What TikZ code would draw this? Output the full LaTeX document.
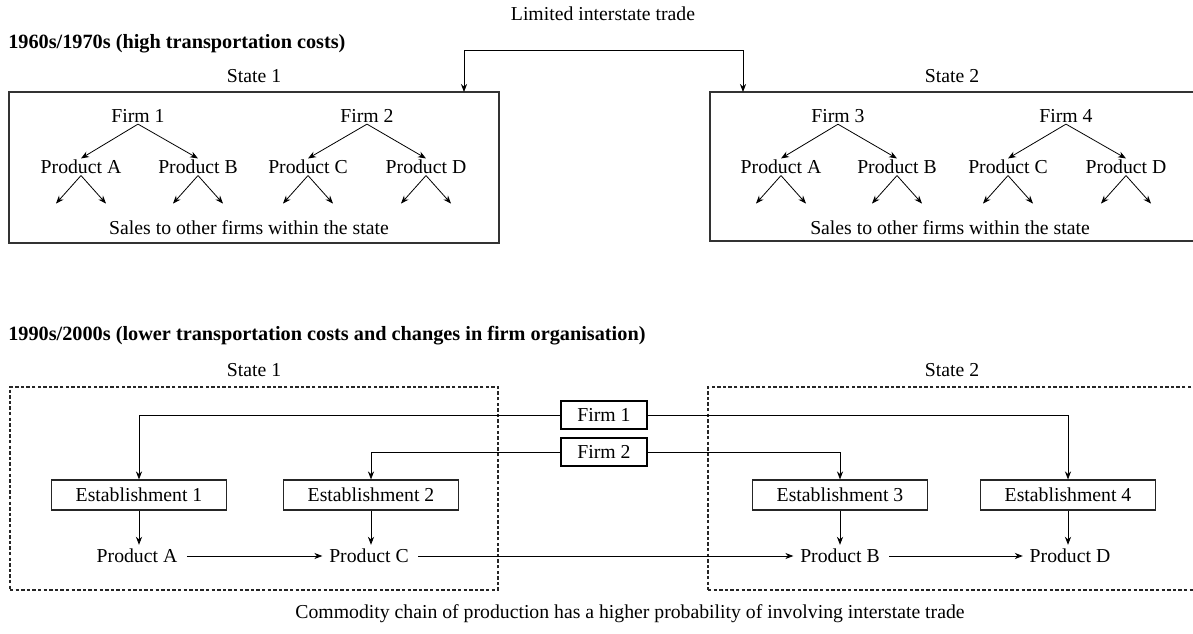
\documentclass[tikz,border=0pt]{standalone}
\usepackage{fontspec}
\setmainfont{Liberation Serif}
\usetikzlibrary{arrows.meta,fit,calc}

\tikzset{
  frame/.style={draw=black!80, line width=1.1pt, inner sep=0pt},
  dframe/.style={draw=black!85, line width=0.8pt, dash pattern=on 2.6pt off 1.6pt, inner sep=0pt},
  conn/.style={draw=black, line width=0.6pt, -{Stealth[length=6pt,width=4.6pt]}},
  firmbox/.style={draw=black, line width=1.5pt, minimum width=65pt, minimum height=21pt, inner sep=0pt},
  estbox/.style={draw=black!85, line width=0.9pt, minimum width=131pt, minimum height=22.5pt, inner sep=0pt},
  heading/.style={anchor=west, font=\fontsize{15.2}{17}\selectfont\bfseries, inner sep=0pt},
  txt/.style={font=\fontsize{14.8}{16}\selectfont, inner sep=1pt},
}

\begin{document}
\begin{tikzpicture}[x=0.75pt, y=-0.75pt]
\useasboundingbox (0,0) rectangle (1193,634);
\clip (0,0) rectangle (1193,634);
\fill[white] (0,0) rectangle (1193,634);

% ---------- upper panel: 1960s/1970s ----------
\node[txt] (lit) at (603,14) {Limited interstate trade};
\node[heading] (t1) at (8,44) {1960s/1970s (high transportation costs)};
\node[txt] (s1) at (254,76) {State 1};
\node[txt] (s2) at (952,76) {State 2};
\node[frame, fit={(9,92) (499,243)}] (b1) {};
\node[frame, fit={(710,92) (1240,241)}] (b2) {};

\coordinate (tr) at (603,50);
\coordinate (in1) at (464,92);
\coordinate (in2) at (743,92);
\draw[conn] (tr) -| (in1);
\draw[conn] (tr) -| (in2);

\foreach \f/\fx/\pa/\ax/\pb/\bx in {1/138/A/81/B/198, 2/367/C/308/D/426, 3/838/A/781/B/897, 4/1066/C/1008/D/1126} {
  \node[txt] (f\f) at (\fx,116) {Firm \f};
  \node[txt] (p\f a) at (\ax,167) {Product \pa};
  \node[txt] (p\f b) at (\bx,167) {Product \pb};
  \draw[conn] (f\f.south) -- (p\f a.north);
  \draw[conn] (f\f.south) -- (p\f b.north);
  \foreach \q in {a,b} {
    \coordinate (p\f\q l) at ($(p\f\q.south)+(-25,28)$);
    \coordinate (p\f\q r) at ($(p\f\q.south)+(25,28)$);
    \draw[conn] (p\f\q.south) -- (p\f\q l);
    \draw[conn] (p\f\q.south) -- (p\f\q r);
  }
}
\node[txt] (sl1) at (249,228) {Sales to other firms within the state};
\node[txt] (sl2) at (950,228) {Sales to other firms within the state};

% ---------- lower panel: 1990s/2000s ----------
\node[heading] (t2) at (8,336) {1990s/2000s (lower transportation costs and changes in firm organisation)};
\node[txt] (s3) at (254,370) {State 1};
\node[txt] (s4) at (952,370) {State 2};
\node[dframe, fit={(10,387) (498,590)}] (d1) {};
\node[dframe, fit={(708,387) (1240,590)}] (d2) {};

\node[firmbox, txt] (F1) at (604,415) {Firm 1};
\node[firmbox, txt] (F2) at (604,452) {Firm 2};

\node[estbox, txt] (E1) at (139,495) {Establishment 1};
\node[estbox, txt] (E2) at (371,495) {Establishment 2};
\node[estbox, txt] (E3) at (840,495) {Establishment 3};
\node[estbox, txt] (E4) at (1068,495) {Establishment 4};

\node[txt] (PA) at (137,556) {Product A};
\node[txt] (PC) at (369,556) {Product C};
\node[txt] (PB) at (840,556) {Product B};
\node[txt] (PD) at (1070,556) {Product D};

\draw[conn] (F1.west) -| (E1.north);
\draw[conn] (F1.east) -| (E4.north);
\draw[conn] (F2.west) -| (E2.north);
\draw[conn] (F2.east) -| (E3.north);

\foreach \e/\p in {E1/PA, E2/PC, E3/PB, E4/PD}
  \draw[conn, shorten >=2pt] (\e.south) -- (\e.south |- \p.north);

\draw[conn, shorten <=6pt, shorten >=4pt] (PA.east) -- (PC.west);
\draw[conn, shorten <=6pt, shorten >=4pt] (PC.east) -- (PB.west);
\draw[conn, shorten <=6pt, shorten >=4pt] (PB.east) -- (PD.west);

\node[txt] (cap) at (630,614) {Commodity chain of production has a higher probability of involving interstate trade};
\end{tikzpicture}
\end{document}
